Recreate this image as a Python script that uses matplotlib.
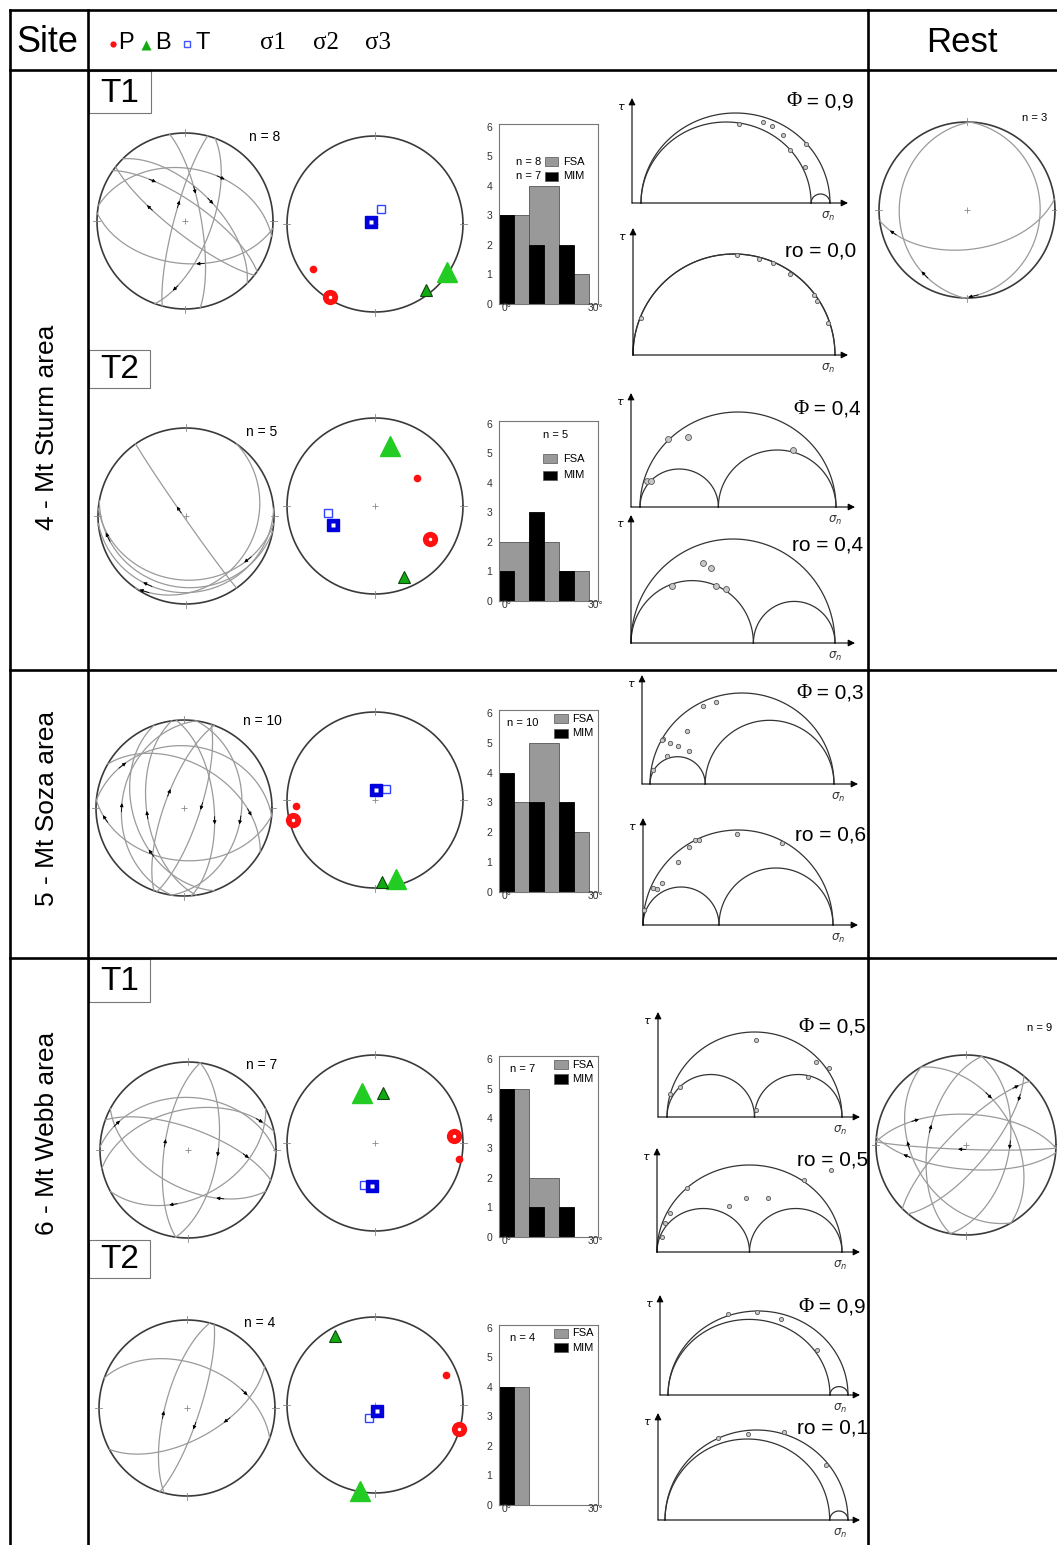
import numpy as np
import matplotlib
matplotlib.use("Agg")
import matplotlib.pyplot as plt
from matplotlib.patches import Rectangle

W, H = 1057, 1545
SANS = ["Liberation Sans", "DejaVu Sans"]
SERIF = ["Liberation Serif", "DejaVu Serif"]
plt.rcParams["font.family"] = SANS

sites = ["4 - Mt Sturm area", "5 - Mt Soza area", "6 - Mt Webb area"]

# fault planes: (strike, dip, rake where the slip arrow sits)
planes_4_t1 = [(280, 40, 110), (95, 50, 70), (305, 72, 40), (128, 78, 120),
               (315, 60, 90), (350, 75, 60), (195, 80, 100), (20, 65, 150)]
planes_4_t2 = [(145, 88, 95), (95, 28, 30), (100, 20, 150), (85, 14, 120), (35, 22, 170)]
planes_5 = [(8, 35, 90), (188, 30, 80), (355, 62, 100), (172, 55, 85), (200, 72, 95),
            (18, 75, 80), (275, 30, 30), (95, 40, 160), (300, 48, 140), (160, 42, 60)]
planes_6_t1 = [(188, 68, 90), (8, 62, 85), (272, 40, 20), (258, 52, 160),
               (290, 70, 140), (62, 45, 120), (118, 55, 40)]
planes_6_t2 = [(195, 70, 75), (18, 78, 100), (290, 48, 130), (62, 60, 60)]
planes_rest_4 = [(182, 24, 30), (2, 18, 170), (83, 53, 160)]
planes_rest_6 = [(10, 50, 80), (190, 55, 95), (272, 62, 40), (95, 68, 140), (92, 86, 90),
                 (330, 45, 60), (150, 40, 110), (40, 70, 20), (225, 75, 160)]

# P, B, T axes and sigma1, sigma2, sigma3 as (trend, plunge)
pbt_4_t1 = [(234, 14), (142, 6), (21, 75)]
sig_4_t1 = [(212, 3), (124, 2), (295, 86)]
pbt_4_t2 = [(56, 42), (158, 14), (262, 45)]
sig_4_t2 = [(121, 28), (14, 30), (246, 47)]
pbt_5 = [(266, 11), (175, 7), (46, 76)]
sig_5 = [(256, 5), (165, 8), (6, 81)]
pbt_6_t1 = [(101, 3), (9, 42), (195, 49)]
sig_6_t1 = [(85, 11), (345, 41), (184, 49)]
pbt_6_t2 = [(67, 14), (330, 11), (205, 77)]
sig_6_t2 = [(106, 1), (190, 1), (164, 84)]

# misfit angle histograms, counts per 10 degree bin
bins = [0, 10, 20]
fsa_4_t1, mim_4_t1 = [3, 4, 1], [3, 2, 2]
fsa_4_t2, mim_4_t2 = [2, 2, 1], [1, 3, 1]
fsa_5, mim_5 = [3, 5, 2], [4, 3, 3]
fsa_6_t1, mim_6_t1 = [5, 2, 0], [5, 1, 1]
fsa_6_t2, mim_6_t2 = [4, 0, 0], [4, 0, 0]

# Mohr diagrams: shape ratios and normalised (sigma_n, tau) of the faults
phi_4_t1, ro_4_t1 = 0.9, 0.0
phi_4_t2, ro_4_t2 = 0.4, 0.4
phi_5, ro_5 = 0.3, 0.6
phi_6_t1, ro_6_t1 = 0.5, 0.5
phi_6_t2, ro_6_t2 = 0.9, 0.1
phi_pts_4_t1 = [(0.519, 0.439), (0.646, 0.45), (0.693, 0.428), (0.751, 0.378),
                (0.873, 0.328), (0.788, 0.294), (0.868, 0.2)]
ro_pts_4_t1 = [(0.04, 0.183), (0.515, 0.495), (0.624, 0.475), (0.693, 0.455),
               (0.777, 0.401), (0.896, 0.297), (0.911, 0.267), (0.965, 0.158)]
phi_pts_4_t2 = [(0.143, 0.358), (0.245, 0.368), (0.781, 0.3), (0.036, 0.137), (0.056, 0.137)]
ro_pts_4_t2 = [(0.353, 0.385), (0.392, 0.361), (0.201, 0.274), (0.417, 0.274), (0.466, 0.26)]
phi_pts_5 = [(0.288, 0.429), (0.359, 0.451), (0.201, 0.291), (0.071, 0.247), (0.109, 0.225),
             (0.152, 0.209), (0.212, 0.181), (0.092, 0.154), (0.016, 0.077), (0.065, 0.242)]
ro_pts_5 = [(0.495, 0.479), (0.732, 0.432), (0.242, 0.411), (0.274, 0.447), (0.295, 0.447),
            (0.184, 0.332), (0.1, 0.221), (0.053, 0.195), (0.074, 0.189), (0.005, 0.079)]
phi_pts_6_t1 = [(0.509, 0.453), (0.851, 0.324), (0.926, 0.288), (0.806, 0.235),
                (0.074, 0.176), (0.017, 0.135), (0.509, 0.041)]
ro_pts_6_t1 = [(0.16, 0.368), (0.07, 0.224), (0.043, 0.167), (0.027, 0.086), (0.39, 0.264),
               (0.481, 0.31), (0.599, 0.31), (0.797, 0.414), (0.941, 0.471)]
phi_pts_6_t2 = [(0.333, 0.482), (0.494, 0.494), (0.628, 0.452), (0.828, 0.265)]
ro_pts_6_t2 = [(0.29, 0.456), (0.454, 0.478), (0.65, 0.489), (0.88, 0.306)]

fig = plt.figure(figsize=(W / 100, H / 100), dpi=100)
bg = fig.add_axes([0, 0, 1, 1])
bg.set_xlim(0, W)
bg.set_ylim(H, 0)
bg.axis("off")


def px_axes(x0, y0, x1, y1):
    return fig.add_axes([x0 / W, 1 - y1 / H, (x1 - x0) / W, (y1 - y0) / H])


def proj(trend, plunge):
    t = np.radians(trend)
    p = np.radians(plunge)
    rho = np.sqrt(2) * np.sin((np.pi / 2 - p) / 2)
    return rho * np.sin(t), rho * np.cos(t)


def plane_line(strike, dip, rake):
    s, d, r = np.radians(strike), np.radians(dip), np.radians(rake)
    dd = s + np.pi / 2
    e = np.cos(r) * np.sin(s) + np.sin(r) * np.cos(d) * np.sin(dd)
    n = np.cos(r) * np.cos(s) + np.sin(r) * np.cos(d) * np.cos(dd)
    z = np.sin(r) * np.sin(d)
    return proj(np.degrees(np.arctan2(e, n)), np.degrees(np.arcsin(np.clip(z, -1, 1))))


def stereonet(cx, cy, r=88):
    m = 1.12
    ax = px_axes(cx - r * m, cy - r * m, cx + r * m, cy + r * m)
    ax.set_xlim(-m, m)
    ax.set_ylim(-m, m)
    ax.set_aspect("equal")
    ax.axis("off")
    th = np.linspace(0, 2 * np.pi, 361)
    ax.plot(np.cos(th), np.sin(th), color="#3a3a3a", lw=1.2)
    for a in np.radians([0, 90, 180, 270]):
        ax.plot([0.97 * np.sin(a), 1.04 * np.sin(a)], [0.97 * np.cos(a), 1.04 * np.cos(a)],
                color="#888888", lw=0.6)
    ax.plot(0, 0, marker="+", color="#888888", ms=4, mew=0.6)
    return ax


def fault_net(cx, cy, planes, r=88):
    ax = stereonet(cx, cy, r)
    rk = np.linspace(0, 180, 181)
    for st, dp, ra in planes:
        x, y = plane_line(st, dp, rk)
        ax.plot(x, y, color="#9a9a9a", lw=0.9)
        x0, y0 = plane_line(st, dp, ra)
        x1, y1 = plane_line(st, dp, ra + 7)
        ax.annotate("", xy=(x1, y1), xytext=(x0, y0),
                    arrowprops=dict(arrowstyle="-|>", color="black", lw=0.6,
                                    mutation_scale=5, shrinkA=0, shrinkB=0))
    return ax


def axes_net(cx, cy, pbt, sig):
    ax = stereonet(cx, cy)
    (p, b, t), (s1, s2, s3) = pbt, sig
    kw = dict(clip_on=False, ls="none", zorder=3)
    ax.plot(*proj(*s2), marker="^", ms=14, mfc="#22cc22", mec="#22cc22", **kw)
    ax.plot(*proj(*b), marker="^", ms=8, mfc="#11aa11", mec="#114411", mew=0.8, **kw)
    ax.plot(*proj(*p), marker="o", ms=5.5, mfc="#ff1010", mec="none", **kw)
    ax.plot(*proj(*s1), marker="o", ms=11, mfc="#ff1010", mec="none", **kw)
    ax.plot(*proj(*s1), marker="o", ms=2.5, mfc="white", mec="none", **kw)
    ax.plot(*proj(*t), marker="s", ms=5.5, mfc="white", mec="#3344ff", mew=1.0, **kw)
    ax.plot(*proj(*s3), marker="s", ms=9, mfc="#0000dd", mec="#0000dd", **kw)
    ax.plot(*proj(*s3), marker="s", ms=2.5, mfc="white", mec="none", **kw)
    return ax


def histogram(box, fsa, mim, style, n_fsa, n_mim):
    ax = px_axes(*box)
    ax.bar(bins, fsa, width=10, align="edge", color="#999999", edgecolor="#555555", lw=0.6)
    ax.bar(bins, mim, width=5, align="edge", color="black", edgecolor="black", lw=0.6)
    ax.set_xlim(0, 33)
    ax.set_ylim(0, 6.1)
    ax.set_yticks(range(7))
    ax.set_xticks([])
    ax.tick_params(axis="y", length=0, labelsize=7.5, pad=5, labelcolor="#333333")
    for sp in ax.spines.values():
        sp.set_color("#777777")
        sp.set_lw(0.8)
    ax.text(0.8, -0.12, "0°", fontsize=7.5, color="#333333", ha="left", va="center")
    ax.text(32, -0.12, "30°", fontsize=7.5, color="#333333", ha="center", va="center")
    tr = ax.transAxes
    fs = 8
    if style == "stack":
        rows = [(0.79, f"n = {n_fsa}", "#999999", "FSA"), (0.71, f"n = {n_mim}", "black", "MIM")]
        for fy, nt, col, lab in rows:
            ax.add_patch(Rectangle((0.46, fy - 0.025), 0.14, 0.05, transform=tr,
                                   facecolor=col, edgecolor="#555555", lw=0.5))
            ax.text(0.43, fy, nt, transform=tr, fontsize=fs, ha="right", va="center")
            ax.text(0.65, fy, lab, transform=tr, fontsize=fs, ha="left", va="center")
    elif style == "top":
        ax.text(0.57, 0.92, f"n = {n_fsa}", transform=tr, fontsize=fs, ha="center", va="center")
        for fy, col, lab in [(0.79, "#999999", "FSA"), (0.70, "black", "MIM")]:
            ax.add_patch(Rectangle((0.44, fy - 0.025), 0.15, 0.05, transform=tr,
                                   facecolor=col, edgecolor="#555555", lw=0.5))
            ax.text(0.65, fy, lab, transform=tr, fontsize=fs, ha="left", va="center")
    else:
        ax.text(0.24, 0.93, f"n = {n_fsa}", transform=tr, fontsize=fs, ha="center", va="center")
        for fy, col, lab in [(0.953, "#999999", "FSA"), (0.873, "black", "MIM")]:
            ax.add_patch(Rectangle((0.555, fy - 0.025), 0.145, 0.05, transform=tr,
                                   facecolor=col, edgecolor="#555555", lw=0.5))
            ax.text(0.74, fy, lab, transform=tr, fontsize=fs, ha="left", va="center")
    return ax


def mohr(spec, kind, value, pts, label_y, psize):
    xl, xr, yt, yb, s3px, s1px, hpx = spec
    ax = px_axes(xl, yt, xr, yb)
    span = s1px - s3px
    ax.set_xlim((xl - s3px) / span, (xr - s3px) / span)
    ax.set_ylim(0, (yb - yt) / hpx * 0.5)
    ax.axis("off")
    s2 = value if kind == "phi" else 1 - value
    th = np.linspace(0, np.pi, 200)
    for a, b in [(0, 1), (0, s2), (s2, 1)]:
        c, rr = (a + b) / 2, (b - a) / 2
        ax.plot(c + rr * np.cos(th), rr * np.sin(th), color="#333333", lw=0.9, clip_on=False)
    ap = dict(arrowstyle="-|>", color="black", lw=0.8, mutation_scale=10, shrinkA=0, shrinkB=0)
    ax.annotate("", xy=(1, 0), xytext=(0, 0), xycoords="axes fraction", arrowprops=ap)
    ax.annotate("", xy=(0, 1), xytext=(0, 0), xycoords="axes fraction", arrowprops=ap)
    pts = np.array(pts)
    ax.scatter(pts[:, 0], pts[:, 1], s=psize, facecolor="#c8c8c8", edgecolor="#555555",
               lw=0.6, zorder=3, clip_on=False)
    bg.text(xl - 11, yt + 9, r"$\tau$", fontsize=8, ha="center", va="center")
    bg.text(xr - 20, yb + 13, r"$\sigma_n$", fontsize=8.5, ha="center", va="center", color="#333333")
    val = f"{value:.1f}".replace(".", ",")
    if kind == "phi":
        t = bg.text(xr + 6, label_y, f" = {val}", fontsize=15, ha="right", va="center")
        bg.annotate("Φ", xy=(0, 0.5), xycoords=t, fontsize=15, ha="right", va="center",
                    family=SERIF)
    else:
        bg.text(xr + 8, label_y, f"ro = {val}", fontsize=15, ha="right", va="center")
    return ax


# table frame
lw_frame = 1.9
for y in (10, 70, 670, 958):
    bg.plot([10, W], [y, y], color="black", lw=lw_frame, solid_capstyle="projecting")
for x in (10, 88, 868):
    bg.plot([x, x], [10, H], color="black", lw=lw_frame, solid_capstyle="projecting")

# header
bg.text(47, 42, "Site", fontsize=26, ha="center", va="center")
bg.text(962, 42, "Rest", fontsize=25, ha="center", va="center")
bg.plot(113, 44, marker="o", ms=4.5, color="#ff1010", mec="none")
bg.text(118, 43, "P", fontsize=17, ha="left", va="center")
bg.plot(146, 45, marker="^", ms=7, color="#11aa11", mec="none")
bg.text(155, 43, "B", fontsize=17, ha="left", va="center")
bg.plot(187, 44, marker="s", ms=4.5, mfc="white", mec="#4455ff", mew=1)
bg.text(195, 43, "T", fontsize=17, ha="left", va="center")
for x, s in zip((260, 313, 365), ("σ1", "σ2", "σ3")):
    bg.text(x, 43, s, fontsize=18, family=SERIF, ha="left", va="center")

# site labels
for y, name in zip((427, 808, 1133), sites):
    bg.text(47, y, name, fontsize=19, rotation=90, ha="center", va="center")

# T1 / T2 tabs
for (x0, y0, x1, y1), lab in zip([(89, 71, 151, 113), (89, 350, 150, 388),
                                   (89, 959, 150, 1002), (89, 1240, 150, 1278)],
                                  ["T1", "T2", "T1", "T2"]):
    bg.add_patch(Rectangle((x0, y0), x1 - x0, y1 - y0, facecolor="white",
                           edgecolor="#777777", lw=0.8))
    bg.text((x0 + x1) / 2, (y0 + y1) / 2 + 1, lab, fontsize=24, ha="center", va="center")

# one row per fault subset
groups = [
    dict(planes=planes_4_t1, pbt=pbt_4_t1, sig=sig_4_t1, fsa=fsa_4_t1, mim=mim_4_t1,
         phi=phi_4_t1, ro=ro_4_t1, phi_pts=phi_pts_4_t1, ro_pts=ro_pts_4_t1,
         left=(185, 221), right=(375, 224), nlab=(265, 137),
         hbox=(499, 124, 598, 304), hstyle="stack", nf=8, nm=7,
         mphi=(632, 848, 98, 203, 641, 830, 90), mro=(633, 848, 228, 355, 633, 835, 101),
         ly=(102, 251), psize=9),
    dict(planes=planes_4_t2, pbt=pbt_4_t2, sig=sig_4_t2, fsa=fsa_4_t2, mim=mim_4_t2,
         phi=phi_4_t2, ro=ro_4_t2, phi_pts=phi_pts_4_t2, ro_pts=ro_pts_4_t2,
         left=(186, 516), right=(375, 506), nlab=(262, 432),
         hbox=(499, 421, 598, 601), hstyle="top", nf=5, nm=5,
         mphi=(631, 855, 393, 507, 640, 836, 95), mro=(631, 855, 515, 643, 631, 835, 104),
         ly=(409, 545), psize=18),
    dict(planes=planes_5, pbt=pbt_5, sig=sig_5, fsa=fsa_5, mim=mim_5,
         phi=phi_5, ro=ro_5, phi_pts=phi_pts_5, ro_pts=ro_pts_5,
         left=(184, 808), right=(375, 800), nlab=(262, 721),
         hbox=(499, 710, 598, 892), hstyle="corner", nf=10, nm=10,
         mphi=(642, 858, 675, 784, 650, 834, 91), mro=(643, 858, 818, 925, 643, 833, 95),
         ly=(693, 835), psize=10),
    dict(planes=planes_6_t1, pbt=pbt_6_t1, sig=sig_6_t1, fsa=fsa_6_t1, mim=mim_6_t1,
         phi=phi_6_t1, ro=ro_6_t1, phi_pts=phi_pts_6_t1, ro_pts=ro_pts_6_t1,
         left=(188, 1150), right=(375, 1143), nlab=(262, 1065),
         hbox=(499, 1056, 598, 1237), hstyle="corner", nf=7, nm=7,
         mphi=(658, 860, 1012, 1117, 667, 842, 85), mro=(657, 860, 1148, 1252, 657, 842, 87),
         ly=(1027, 1160), psize=9),
    dict(planes=planes_6_t2, pbt=pbt_6_t2, sig=sig_6_t2, fsa=fsa_6_t2, mim=mim_6_t2,
         phi=phi_6_t2, ro=ro_6_t2, phi_pts=phi_pts_6_t2, ro_pts=ro_pts_6_t2,
         left=(187, 1408), right=(375, 1405), nlab=(260, 1323),
         hbox=(499, 1325, 598, 1505), hstyle="corner", nf=4, nm=4,
         mphi=(660, 860, 1295, 1395, 668, 848, 84), mro=(658, 860, 1413, 1520, 665, 848, 90),
         ly=(1307, 1428), psize=9),
]

for g in groups:
    fault_net(*g["left"], g["planes"])
    bg.text(*g["nlab"], f"n = {len(g['planes'])}", fontsize=10, ha="center", va="center")
    axes_net(*g["right"], g["pbt"], g["sig"])
    histogram(g["hbox"], g["fsa"], g["mim"], g["hstyle"], g["nf"], g["nm"])
    mohr(g["mphi"], "phi", g["phi"], g["phi_pts"], g["ly"][0], g["psize"])
    mohr(g["mro"], "ro", g["ro"], g["ro_pts"], g["ly"][1], g["psize"])

# remaining faults not fitting either subset
fault_net(967, 210, planes_rest_4)
bg.text(1035, 118, f"n = {len(planes_rest_4)}", fontsize=8, ha="center", va="center")
fault_net(966, 1145, planes_rest_6, r=90)
bg.text(1040, 1028, f"n = {len(planes_rest_6)}", fontsize=8, ha="center", va="center")

fig.savefig("out.png", dpi=100)
